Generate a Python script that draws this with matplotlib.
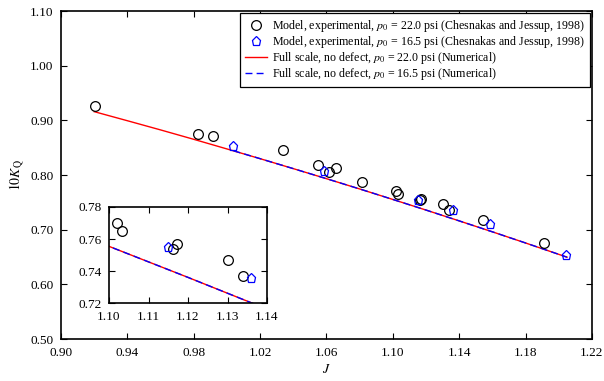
import matplotlib
matplotlib.use("Agg")
import matplotlib.pyplot as plt
import numpy as np

plt.rcParams['font.family'] = ['Liberation Serif', 'DejaVu Serif']
plt.rcParams['mathtext.fontset'] = 'stix'

# Experimental, p0 = 22.0 psi
J_exp22 = [0.9205, 0.9828, 0.9918, 1.034, 1.0547, 1.0617, 1.0658, 1.0816,
           1.1021, 1.1032, 1.1161, 1.1171, 1.1300, 1.1339, 1.1546, 1.1910]
K_exp22 = [0.926, 0.876, 0.872, 0.845, 0.818, 0.8055, 0.8134, 0.787,
           0.770, 0.765, 0.754, 0.757, 0.747, 0.737, 0.717, 0.676]
# Experimental, p0 = 16.5 psi
J_exp16 = [1.0037, 1.0587, 1.1149, 1.1360, 1.1588, 1.2046]
K_exp16 = [0.8525, 0.807, 0.755, 0.7356, 0.710, 0.654]
# Numerical, p0 = 22.0 psi
J_num22 = [0.920, 0.940, 0.960, 0.980, 1.000, 1.020, 1.040, 1.060, 1.080,
           1.100, 1.120, 1.140, 1.160, 1.180, 1.205]
K_num22 = [0.916, 0.8994, 0.8826, 0.8654, 0.8478, 0.830, 0.8118, 0.7934, 0.7746,
           0.7554, 0.736, 0.7162, 0.6962, 0.6758, 0.6498]
# Numerical, p0 = 16.5 psi
J_num16 = [1.004, 1.020, 1.040, 1.060, 1.080, 1.100, 1.120, 1.140, 1.160, 1.180, 1.205]
K_num16 = [0.8444, 0.830, 0.8118, 0.7934, 0.7746, 0.7554, 0.736, 0.7162, 0.6962, 0.6758, 0.6498]

labels = [r"Model, experimental, $p_0$ = 22.0 psi (Chesnakas and Jessup, 1998)",
          r"Model, experimental, $p_0$ = 16.5 psi (Chesnakas and Jessup, 1998)",
          r"Full scale, no defect, $p_0$ = 22.0 psi (Numerical)",
          r"Full scale, no defect, $p_0$ = 16.5 psi (Numerical)"]

fig = plt.figure(figsize=(6.04, 3.81), dpi=100)
ax = fig.add_axes([0.101, 0.110, 0.879, 0.861])


def draw(a):
    a.plot(J_exp22, K_exp22, linestyle='none', marker='o', ms=7, mfc='none',
           mec='black', mew=0.9, label=labels[0], zorder=3)
    a.plot(J_exp16, K_exp16, linestyle='none', marker='p', ms=6.5, mfc='none',
           mec='blue', mew=0.9, label=labels[1], zorder=3)
    a.plot(J_num22, K_num22, color='red', lw=1.0, label=labels[2], zorder=2)
    a.plot(J_num16, K_num16, color='blue', lw=1.0, ls=(0, (5, 3)), label=labels[3], zorder=2)
    a.tick_params(direction='in', top=True, right=True, labelsize=9.5, length=4,
                  width=0.8, pad=5.5)
    for s in a.spines.values():
        s.set_linewidth(1.2)


draw(ax)
ax.set_xlim(0.90, 1.22)
ax.set_ylim(0.50, 1.10)
ax.set_xticks(np.arange(0.90, 1.2201, 0.04))
ax.set_yticks(np.arange(0.50, 1.1001, 0.10))
ax.xaxis.set_major_formatter(matplotlib.ticker.FormatStrFormatter('%.2f'))
ax.yaxis.set_major_formatter(matplotlib.ticker.FormatStrFormatter('%.2f'))
ax.set_xlabel(r"$J$", fontsize=10, labelpad=3)
ax.set_ylabel(r"$10K_\mathrm{Q}$", fontsize=10, labelpad=2)
leg = ax.legend(loc='upper right', fontsize=8.6, frameon=True, fancybox=False,
                edgecolor='black', framealpha=1, labelspacing=0.0,
                handlelength=1.8, handletextpad=0.45, borderpad=0.4,
                borderaxespad=0.2)
leg.get_frame().set_linewidth(0.9)

axi = fig.add_axes([0.1805, 0.2047, 0.2616, 0.252])
draw(axi)
axi.set_xlim(1.10, 1.14)
axi.set_ylim(0.72, 0.78)
axi.set_xticks(np.arange(1.10, 1.1401, 0.01))
axi.set_yticks(np.arange(0.72, 0.7801, 0.02))
axi.xaxis.set_major_formatter(matplotlib.ticker.FormatStrFormatter('%.2f'))
axi.yaxis.set_major_formatter(matplotlib.ticker.FormatStrFormatter('%.2f'))

fig.savefig("out.png", dpi=100)
